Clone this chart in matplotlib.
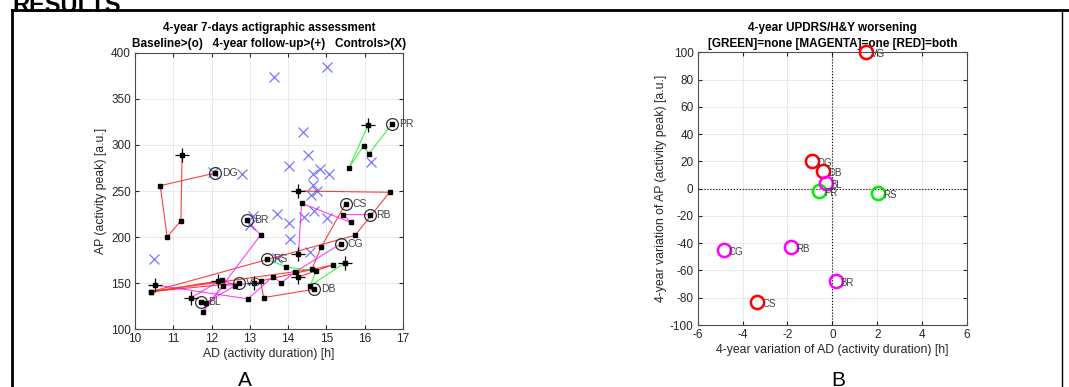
import numpy as np
import matplotlib
matplotlib.use("Agg")
import matplotlib.pyplot as plt

plt.rcParams["font.family"] = ["Liberation Sans", "DejaVu Sans"]
plt.rcParams["axes.unicode_minus"] = False

# ---- panel A: trajectories (baseline, yearly points, 4-year follow-up) ----
patients = ["DG", "PR", "VG", "CS", "DB", "RS", "RB", "BR", "BL", "CG"]
worsening = ["both", "none", "both", "both", "both", "none", "one", "one", "one", "one"]

ad_traj = {
    "DG": [12.1, 10.66, 10.84, 11.2, 11.23],
    "PR": [16.72, 16.11, 15.97, 15.59, 16.09],
    "VG": [12.72, 10.42, 15.75, 16.65, 14.25],
    "CS": [15.5, 14.86, 14.62, 10.42, 12.18],
    "DB": [14.68, 13.36, 13.28, 15.16, 14.27],
    "RS": [13.44, 13.95, 14.73, 14.58, 15.49],
    "RB": [16.13, 15.43, 15.64, 14.35, 14.27],
    "BR": [12.93, 13.28, 11.77, 12.3, 13.1],
    "BL": [11.73, 11.86, 12.62, 12.26, 11.46],
    "CG": [15.38, 14.17, 13.82, 13.6, 12.95, 10.53],
}
ap_traj = {
    "DG": [269.5, 255.8, 200, 218, 289],
    "PR": [323, 290.5, 298.8, 275.3, 321.6],
    "VG": [150.3, 140.8, 202, 248.6, 250],
    "CS": [236.3, 188.9, 165.1, 140.8, 152.4],
    "DB": [143.4, 134.4, 152.4, 169.8, 156.8],
    "RS": [176, 167.6, 163.3, 147.4, 172.3],
    "RB": [224.4, 224.4, 216, 236.7, 181.3],
    "BR": [218.2, 202.3, 118.8, 147.4, 150],
    "BL": [130, 129, 147.4, 154, 134],
    "CG": [193, 161.8, 150.3, 157, 133, 148],
}

ctrl_ad = [10.5, 13.64, 15.02, 14.38, 14.53, 14.03, 16.16, 12.8, 12.05, 14.82,
           14.66, 15.08, 14.66, 14.75, 14.6, 13.07, 13.7, 14.01, 14.41, 14.68,
           15.02, 14.05, 13.01, 14.56, 13.71]
ctrl_ap = [176, 373.6, 384.8, 314.3, 289.4, 277.5, 281, 268.8, 271, 273.5,
           268.8, 268, 256, 250, 245.7, 222.9, 224.7, 215, 222, 228.3,
           220.4, 197.6, 213, 183.5, 177]

# ---- panel B: 4-year variations ----
var_ad = [-0.9, -0.6, 1.5, -3.35, -0.4, 2.05, -1.85, 0.15, -0.3, -4.85]
var_ap = [20, -2, 100, -83, 13, -3, -43, -68, 4, -45]

col = {"none": "#00ee00", "one": "#ff00ff", "both": "#ff0000"}
txt_col = "#262626"
ax_col = "#4d4d4d"

fig = plt.figure(figsize=(10.69, 3.87), dpi=100)

# outer frame and header cut by the page edge
fig.add_artist(plt.Line2D([12 / 1069, 1], [1 - 10 / 387, 1 - 10 / 387], color="black", lw=2))
fig.add_artist(plt.Line2D([12 / 1069, 12 / 1069], [0, 1 - 10 / 387], color="black", lw=2))
fig.add_artist(plt.Line2D([1062 / 1069, 1062 / 1069], [0, 1 - 10 / 387], color="black", lw=1))
fig.text(12 / 1069, 1 - 12 / 387, "RESULTS", fontsize=17, fontweight="bold", va="baseline")
fig.text(245 / 1069, -3 / 387, "A", fontsize=15, ha="center", va="bottom")
fig.text(838 / 1069, -3 / 387, "B", fontsize=15, ha="center", va="bottom")


def style(ax):
    ax.grid(True, color="#e6e6e6", lw=0.6)
    ax.set_axisbelow(True)
    ax.tick_params(direction="in", length=3, labelsize=8.5, colors=txt_col,
                   top=True, right=True, pad=3)
    for s in ax.spines.values():
        s.set_color(ax_col)
        s.set_linewidth(0.8)


# ---- panel A ----
axA = fig.add_axes([135 / 1069, 1 - 329.3 / 387, 268 / 1069, 276.6 / 387])
style(axA)
axA.plot(ctrl_ad, ctrl_ap, "x", color="#7777ff", ms=7, mew=0.9, zorder=2)
for name, w in zip(patients, worsening):
    xs, ys = ad_traj[name], ap_traj[name]
    axA.plot(xs, ys, "-", color=col[w], lw=0.8, alpha=0.75, zorder=3)
    axA.plot(xs, ys, "s", color="black", ms=2.2, zorder=5)
    axA.plot(xs[0], ys[0], "o", mfc="none", mec="#333333", ms=8.5, mew=0.9, zorder=4)
    axA.plot(xs[-1], ys[-1], "+", color="black", ms=10, mew=0.9, zorder=4)
    axA.text(xs[0] + 0.17, ys[0], name, fontsize=7.5, color="#404040", va="center", zorder=6)
axA.set_xlim(10, 17)
axA.set_ylim(100, 400)
axA.set_xticks(range(10, 18))
axA.set_yticks(range(100, 401, 50))
axA.set_xlabel("AD (activity duration) [h]", fontsize=8.8, color=txt_col, labelpad=2)
axA.set_ylabel("AP (activity peak) [a.u.]", fontsize=8.8, color=txt_col, labelpad=3)
axA.set_title("4-year 7-days actigraphic assessment\n"
              "Baseline>(o)   4-year follow-up>(+)   Controls>(X)",
              fontsize=8.5, fontweight="bold", linespacing=1.45, pad=4)

# ---- panel B ----
axB = fig.add_axes([697.7 / 1069, 1 - 325 / 387, 269.3 / 1069, 272.7 / 387])
style(axB)
axB.axhline(0, color="black", ls=":", lw=0.8, zorder=2)
axB.axvline(0, color="black", ls=":", lw=0.8, zorder=2)
for name, w, dx, dy in zip(patients, worsening, var_ad, var_ap):
    axB.plot(dx, dy, "o", mfc="none", mec=col[w], ms=9.5, mew=1.8, zorder=4, clip_on=False)
    axB.text(dx + 0.22, dy - 1.5, name, fontsize=7, color="#404040", va="center", zorder=5)
axB.set_xlim(-6, 6)
axB.set_ylim(-100, 100)
axB.set_xticks(range(-6, 7, 2))
axB.set_yticks(range(-100, 101, 20))
axB.set_xlabel("4-year variation of AD (activity duration) [h]", fontsize=8.8, color=txt_col, labelpad=2)
axB.set_ylabel("4-year variation of AP (activity peak) [a.u.]", fontsize=8.8, color=txt_col, labelpad=2)
axB.set_title("4-year UPDRS/H&Y worsening\n"
              "[GREEN]=none [MAGENTA]=one [RED]=both",
              fontsize=8.5, fontweight="bold", linespacing=1.45, pad=4)

fig.savefig("out.png", dpi=100)
